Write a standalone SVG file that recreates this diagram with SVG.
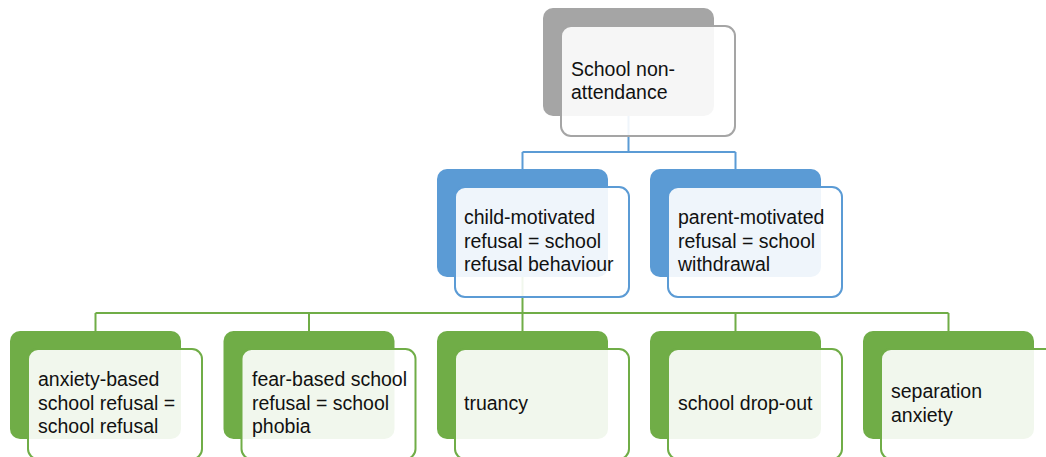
<svg xmlns="http://www.w3.org/2000/svg" width="1046" height="457" viewBox="0 0 1046 457">
  <style>
    .back { stroke: none; }
    .front { fill: #ffffff; fill-opacity: 0.9; stroke-width: 2; }
    .gray .back { fill: #a5a5a5; }
    .gray .front { stroke: #a5a5a5; }
    .blue .back { fill: #5b9bd5; }
    .blue .front { stroke: #5b9bd5; }
    .green .back { fill: #70ad47; }
    .green .front { stroke: #70ad47; }
    .lbl { font-family: "Liberation Sans", Arial, sans-serif; font-size: 19.5px; fill: #111111; }
    .conn { fill: none; stroke-width: 2; }
    .conn-blue { stroke: #5b9bd5; }
    .conn-green { stroke: #70ad47; }
  </style>
  <rect width="1046" height="457" fill="#ffffff"/>

  <!-- connectors (drawn beneath the nodes) -->
  <g id="connectors">
    <path class="conn conn-blue" d="M628.5,116 V152 M522.5,152 H735.5 M522.5,152 V169 M735.5,152 V169"/>
    <path class="conn conn-green" d="M522.5,277 V313 M95.5,313 H948.5 M95.5,313 V331 M309,313 V331 M522.5,313 V331 M735.5,313 V331 M948.5,313 V331"/>
  </g>

  <!-- level 1 -->
  <g id="node-school-non-attendance" class="gray">
    <rect class="back" x="543" y="8" width="171" height="108" rx="10"/>
    <rect class="front" x="561" y="26" width="174" height="110" rx="10"/>
    <text class="lbl" x="571" y="76">School non-</text>
    <text class="lbl" x="571" y="99">attendance</text>
  </g>

  <!-- level 2 -->
  <g id="node-child-motivated" class="blue">
    <rect class="back" x="437" y="169" width="171" height="108" rx="10"/>
    <rect class="front" x="455" y="187" width="174" height="110" rx="10"/>
    <text class="lbl" x="464" y="224">child-motivated</text>
    <text class="lbl" x="464" y="247.5">refusal = school</text>
    <text class="lbl" x="464" y="271">refusal behaviour</text>
  </g>
  <g id="node-parent-motivated" class="blue">
    <rect class="back" x="650" y="169" width="171" height="108" rx="10"/>
    <rect class="front" x="668" y="187" width="174" height="110" rx="10"/>
    <text class="lbl" x="678" y="224">parent-motivated</text>
    <text class="lbl" x="678" y="247.5">refusal = school</text>
    <text class="lbl" x="678" y="271">withdrawal</text>
  </g>

  <!-- level 3 -->
  <g id="node-anxiety-based" class="green">
    <rect class="back" x="10" y="331" width="171" height="108" rx="10"/>
    <rect class="front" x="28" y="349" width="174" height="110" rx="10"/>
    <text class="lbl" x="38" y="386">anxiety-based</text>
    <text class="lbl" x="38" y="409.5">school refusal =</text>
    <text class="lbl" x="38" y="433">school refusal</text>
  </g>
  <g id="node-fear-based" class="green">
    <rect class="back" x="223.5" y="331" width="171" height="108" rx="10"/>
    <rect class="front" x="241.5" y="349" width="174" height="110" rx="10"/>
    <text class="lbl" x="252" y="386">fear-based school</text>
    <text class="lbl" x="252" y="409.5">refusal = school</text>
    <text class="lbl" x="252" y="433">phobia</text>
  </g>
  <g id="node-truancy" class="green">
    <rect class="back" x="437" y="331" width="171" height="108" rx="10"/>
    <rect class="front" x="455" y="349" width="174" height="110" rx="10"/>
    <text class="lbl" x="464" y="410">truancy</text>
  </g>
  <g id="node-school-drop-out" class="green">
    <rect class="back" x="650" y="331" width="171" height="108" rx="10"/>
    <rect class="front" x="668" y="349" width="174" height="110" rx="10"/>
    <text class="lbl" x="678" y="410">school drop-out</text>
  </g>
  <g id="node-separation-anxiety" class="green">
    <rect class="back" x="863" y="331" width="171" height="108" rx="10"/>
    <rect class="front" x="881" y="349" width="174" height="110" rx="10"/>
    <text class="lbl" x="891" y="398">separation</text>
    <text class="lbl" x="891" y="421.5">anxiety</text>
  </g>
</svg>
